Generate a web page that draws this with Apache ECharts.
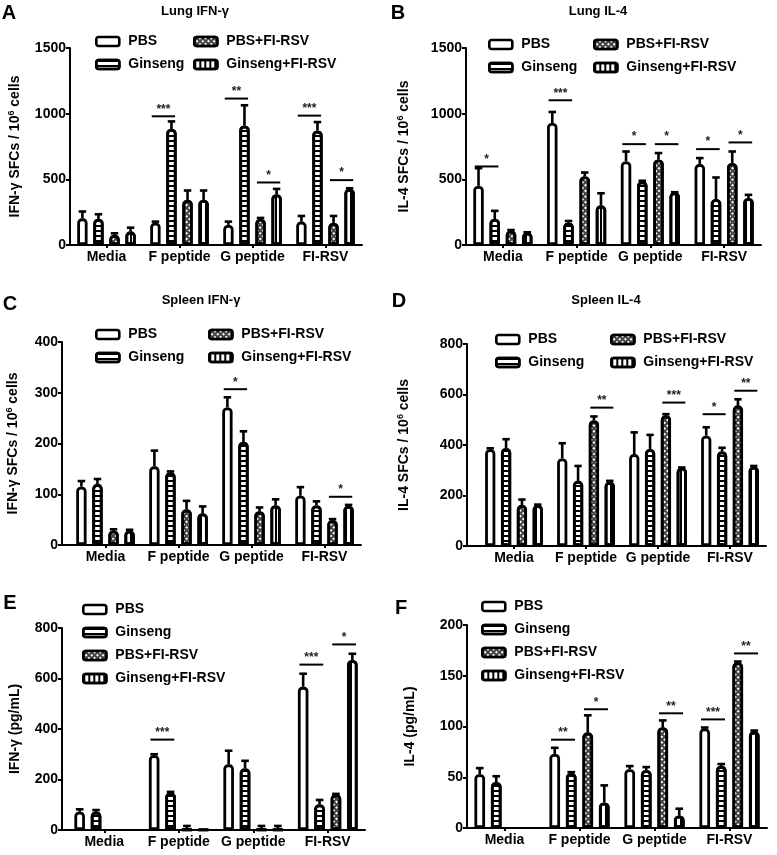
<!DOCTYPE html>
<html><head><meta charset="utf-8">
<script src="https://cdn.jsdelivr.net/npm/echarts@6/dist/echarts.min.js"></script>
<style>html,body{margin:0;padding:0;background:#fff}#c{width:777px;height:855px}</style>
</head><body><div id="c"></div>
<script>
// ---------- DATA ----------
const categories = ['Media', 'F peptide', 'G peptide', 'FI-RSV'];
const groups = ['PBS', 'Ginseng', 'PBS+FI-RSV', 'Ginseng+FI-RSV'];

// A: Lung IFN-γ (SFCs / 10^6 cells)
const A_PBS = [203, 170, 153, 178];
const A_PBS_SEM = [52, 8, 25, 43];
const A_Ginseng = [198, 883, 908, 870];
const A_Ginseng_SEM = [36, 58, 156, 66];
const A_PBS_FI = [76, 343, 198, 168];
const A_PBS_FI_SEM = [13, 72, 8, 53];
const A_Ginseng_FI = [102, 343, 384, 427];
const A_Ginseng_FI_SEM = [30, 72, 43, 5];
const A_sig = [[1, 0, 1, 980, 3], [2, 0, 1, 1115, 2], [2, 2, 3, 476, 1], [3, 0, 1, 985, 3], [3, 2, 3, 494, 1]];

// B: Lung IL-4
const B_PBS = [450, 929, 636, 616];
const B_PBS_SEM = [135, 84, 76, 46];
const B_Ginseng = [198, 170, 483, 349];
const B_Ginseng_SEM = [62, 13, 6, 165];
const B_PBS_FI = [109, 522, 649, 623];
const B_PBS_FI_SEM = [5, 30, 51, 89];
const B_Ginseng_FI = [94, 300, 400, 356];
const B_Ginseng_FI_SEM = [3, 94, 2, 26];
const B_sig = [[0, 0, 1, 598, 1], [1, 0, 1, 1102, 3], [2, 0, 1, 768, 1], [2, 2, 3, 768, 1], [3, 0, 1, 730, 1], [3, 2, 3, 781, 1]];

// C: Spleen IFN-γ
const C_PBS = [115, 155, 271, 97];
const C_PBS_SEM = [11, 31, 20, 17];
const C_Ginseng = [120, 143, 203, 78];
const C_Ginseng_SEM = [10, 2, 21, 8];
const C_PBS_FI = [28, 70, 66, 49];
const C_PBS_FI_SEM = [3, 17, 8, 2];
const C_Ginseng_FI = [28, 62, 78, 77];
const C_Ginseng_FI_SEM = [2, 14, 12, 2];
const C_sig = [[2, 0, 1, 307, 1], [3, 2, 3, 95, 1]];

// D: Spleen IL-4
const D_PBS = [383, 347, 364, 437];
const D_PBS_SEM = [4, 60, 86, 33];
const D_Ginseng = [387, 258, 383, 374];
const D_Ginseng_SEM = [36, 59, 57, 15];
const D_PBS_FI = [162, 497, 517, 556];
const D_PBS_FI_SEM = [22, 16, 5, 25];
const D_Ginseng_FI = [162, 254, 310, 314];
const D_Ginseng_FI_SEM = [2, 4, 1, 3];
const D_sig = [[1, 2, 3, 548, 2], [2, 2, 3, 568, 3], [3, 0, 1, 522, 1], [3, 2, 3, 615, 2]];

// E: IFN-γ (pg/mL)
const E_PBS = [72, 296, 260, 567];
const E_PBS_SEM = [10, 4, 54, 52];
const E_Ginseng = [72, 148, 244, 101];
const E_Ginseng_SEM = [7, 3, 30, 18];
const E_PBS_FI = [null, 2, 2, 141];
const E_PBS_FI_SEM = [null, 14, 14, 2];
const E_Ginseng_FI = [null, 1, 2, 672];
const E_Ginseng_FI_SEM = [null, 0, 14, 26];
const E_sig = [[1, 0, 1, 358, 3], [3, 0, 1, 655, 3], [3, 2, 3, 735, 1]];

// F: IL-4 (pg/mL)
const F_PBS = [53, 73, 58, 98];
const F_PBS_SEM = [6, 6, 3, 1];
const F_Ginseng = [45, 54, 57, 61];
const F_Ginseng_SEM = [6, 1, 3, 2];
const F_PBS_FI = [null, 94, 99, 163];
const F_PBS_FI_SEM = [null, 17, 7, 1];
const F_Ginseng_FI = [null, 25, 12, 95];
const F_Ginseng_FI_SEM = [null, 17, 7, 1];
const F_sig = [[1, 0, 1, 87, 2], [1, 2, 3, 117, 1], [2, 2, 3, 113, 2], [3, 0, 1, 107, 3], [3, 2, 3, 172, 2]];

// ---------- LAYOUT / STYLE ----------
const FONT = '"Liberation Sans", Arial, Helvetica, sans-serif';
const BAR_W = 0.142, BAR_GAP = 0.55;

const panels = [
  { letter: 'A', title: 'Lung IFN-γ', tx: 195, ty: 11, lx: 9, ly: 13, yOff: 0,
    grid: { left: 70, top: 48, width: 292, height: 197 }, max: 1500, interval: 500,
    yName: 'IFN-γ SFCs / 10{s|6} cells', nameGap: 47,
    series: [[A_PBS, A_PBS_SEM], [A_Ginseng, A_Ginseng_SEM], [A_PBS_FI, A_PBS_FI_SEM], [A_Ginseng_FI, A_Ginseng_FI_SEM]], sig: A_sig,
    legends: [{ left: 95, top: 34, data: [groups[0], groups[1]] }, { left: 193, top: 34, data: [groups[2], groups[3]] }] },
  { letter: 'B', title: 'Lung IL-4', tx: 598, ty: 11, lx: 398, ly: 13, yOff: 0,
    grid: { left: 466, top: 48, width: 295, height: 197 }, max: 1500, interval: 500,
    yName: 'IL-4 SFCs / 10{s|6} cells', nameGap: 54,
    series: [[B_PBS, B_PBS_SEM], [B_Ginseng, B_Ginseng_SEM], [B_PBS_FI, B_PBS_FI_SEM], [B_Ginseng_FI, B_Ginseng_FI_SEM]], sig: B_sig,
    legends: [{ left: 488, top: 37, data: [groups[0], groups[1]] }, { left: 593, top: 37, data: [groups[2], groups[3]] }] },
  { letter: 'C', title: 'Spleen IFN-γ', tx: 201, ty: 300, lx: 10, ly: 304, yOff: 7,
    grid: { left: 69, top: 342, width: 292, height: 203 }, max: 400, interval: 100,
    yName: 'IFN-γ SFCs / 10{s|6} cells', nameGap: 41,
    series: [[C_PBS, C_PBS_SEM], [C_Ginseng, C_Ginseng_SEM], [C_PBS_FI, C_PBS_FI_SEM], [C_Ginseng_FI, C_Ginseng_FI_SEM]], sig: C_sig,
    legends: [{ left: 95, top: 327, data: [groups[0], groups[1]] }, { left: 208, top: 327, data: [groups[2], groups[3]] }] },
  { letter: 'D', title: 'Spleen IL-4', tx: 606, ty: 300, lx: 399, ly: 301, yOff: 11,
    grid: { left: 478, top: 344, width: 288, height: 202 }, max: 800, interval: 200,
    yName: 'IL-4 SFCs / 10{s|6} cells', nameGap: 55,
    series: [[D_PBS, D_PBS_SEM], [D_Ginseng, D_Ginseng_SEM], [D_PBS_FI, D_PBS_FI_SEM], [D_Ginseng_FI, D_Ginseng_FI_SEM]], sig: D_sig,
    legends: [{ left: 495, top: 332, data: [groups[0], groups[1]] }, { left: 610, top: 332, data: [groups[2], groups[3]] }] },
  { letter: 'E', title: '', tx: 0, ty: 0, lx: 10, ly: 603, yOff: 5,
    grid: { left: 67, top: 628, width: 298, height: 202 }, max: 800, interval: 200,
    yName: 'IFN-γ (pg/mL)', nameGap: 40,
    series: [[E_PBS, E_PBS_SEM], [E_Ginseng, E_Ginseng_SEM], [E_PBS_FI, E_PBS_FI_SEM], [E_Ginseng_FI, E_Ginseng_FI_SEM]], sig: E_sig,
    legends: [{ left: 82, top: 602, data: groups.slice() }] },
  { letter: 'F', title: '', tx: 0, ty: 0, lx: 401, ly: 608, yOff: 0,
    grid: { left: 467, top: 625, width: 300, height: 203 }, max: 200, interval: 50,
    yName: 'IL-4 (pg/mL)', nameGap: 50,
    series: [[F_PBS, F_PBS_SEM], [F_Ginseng, F_Ginseng_SEM], [F_PBS_FI, F_PBS_FI_SEM], [F_Ginseng_FI, F_Ginseng_FI_SEM]], sig: F_sig,
    legends: [{ left: 481, top: 599, data: groups.slice() }] }
];

const barStyles = [
  { color: '#fff', borderColor: '#000', borderWidth: 2.8, borderRadius: [3, 3, 0, 0] },
  { color: '#fff', borderColor: '#000', borderWidth: 2.8, borderRadius: [3, 3, 0, 0],
    decal: { symbol: 'rect', symbolSize: 1, symbolKeepAspect: false, color: '#000',
             dashArrayX: [1, 0], dashArrayY: [1.2, 2.8], rotation: 0 } },
  { color: '#444', borderColor: '#000', borderWidth: 2.8, borderRadius: [3, 3, 0, 0],
    decal: { symbol: 'rect', symbolSize: 1, symbolKeepAspect: false, color: '#fff',
             dashArrayX: [1.3, 1.4], dashArrayY: [1.3, 1.4], rotation: Math.PI / 4 } },
  { color: '#fff', borderColor: '#000', borderWidth: 2.8, borderRadius: [3, 3, 0, 0],
    decal: { symbol: 'rect', symbolSize: 1, symbolKeepAspect: false, color: '#000',
             dashArrayX: [1.2, 2.6], dashArrayY: [1, 0], rotation: 0 } }
];

function barLayout(api) {
  const band = api.size([1, 0])[0];
  const bw = band * BAR_W;
  const total = 4 * bw + 3 * bw * BAR_GAP;
  return { bw: bw, off: function (i) { return -total / 2 + bw / 2 + i * bw * (1 + BAR_GAP); } };
}

function renderErr(params, api) {
  const cat = api.value(0), bi = api.value(1), mean = api.value(2), err = api.value(3);
  const L = barLayout(api);
  const base = api.coord([cat, mean]);
  const top = api.coord([cat, mean + err]);
  const x = base[0] + L.off(bi);
  const half = L.bw * 0.36;
  const st = { stroke: '#000', lineWidth: 2.6 };
  return { type: 'group', children: [
    { type: 'line', shape: { x1: x, y1: base[1], x2: x, y2: top[1] }, style: st },
    { type: 'line', shape: { x1: x - half, y1: top[1], x2: x + half, y2: top[1] }, style: st }
  ] };
}

function renderSig(params, api) {
  const cat = api.value(0), a = api.value(1), b = api.value(2), y = api.value(3), n = api.value(4);
  const L = barLayout(api);
  const p = api.coord([cat, y]);
  const x1 = p[0] + L.off(a) - L.bw * 0.35;
  const x2 = p[0] + L.off(b) + L.bw * 0.35;
  return { type: 'group', children: [
    { type: 'line', shape: { x1: x1, y1: p[1], x2: x2, y2: p[1] }, style: { stroke: '#000', lineWidth: 2 } },
    { type: 'text', style: { text: '*'.repeat(n), x: (x1 + x2) / 2, y: p[1] - 1, align: 'center', verticalAlign: 'bottom',
      font: 'bold 12px ' + FONT, fill: '#222' } }
  ] };
}

const grids = [], xAxes = [], yAxes = [], series = [], legends = [], graphics = [];

panels.forEach(function (P, pi) {
  grids.push(Object.assign({ outerBoundsMode: 'none', containLabel: false }, P.grid));
  const xLine = { show: true, lineStyle: { color: '#000', width: 2 } };
  if (P.yOff > 0) {
    xLine.symbol = ['rect', 'none'];
    xLine.symbolSize = [2, P.yOff + 2];
    xLine.symbolOffset = [-(P.yOff + 2) / 2 + 1, 0];
  }
  xAxes.push({
    type: 'category', gridIndex: pi, data: categories,
    axisLine: xLine,
    axisTick: { show: true, alignWithLabel: true, length: 3, lineStyle: { color: '#000', width: 2 } },
    axisLabel: { color: '#000', fontSize: 14, fontWeight: 'bold', fontFamily: FONT, margin: 5, interval: 0 }
  });
  yAxes.push({
    type: 'value', gridIndex: pi, min: 0, max: P.max, interval: P.interval, offset: P.yOff,
    splitLine: { show: false },
    axisLine: { show: true, lineStyle: { color: '#000', width: 2 } },
    axisTick: { show: true, length: 4, lineStyle: { color: '#000', width: 2 } },
    axisLabel: { color: '#000', fontSize: 14, fontWeight: 'bold', fontFamily: FONT, margin: 4,
      formatter: function (v) { return String(v); } },
    name: P.yName, nameLocation: 'middle', nameGap: P.nameGap, nameRotate: 90,
    nameTextStyle: { color: '#000', fontSize: 14, fontWeight: 'bold', fontFamily: FONT,
      rich: { s: { fontSize: 9, fontWeight: 'bold', fontFamily: FONT, color: '#000', verticalAlign: 'top', padding: [0, 0, 7, 0] } } }
  });
  const errData = [];
  P.series.forEach(function (pair, bi) {
    series.push({
      type: 'bar', name: groups[bi], xAxisIndex: pi, yAxisIndex: pi, data: pair[0],
      barWidth: (BAR_W * 100) + '%', barGap: (BAR_GAP * 100) + '%',
      itemStyle: barStyles[bi], emphasis: { disabled: true }, z: 2
    });
    pair[0].forEach(function (v, ci) {
      if (v != null && pair[1][ci] != null) errData.push([ci, bi, v, pair[1][ci]]);
    });
  });
  series.push({ type: 'custom', name: 'err' + pi, xAxisIndex: pi, yAxisIndex: pi, renderItem: renderErr,
    data: errData, encode: { x: 0, y: 2 }, z: 3, silent: true });
  series.push({ type: 'custom', name: 'sig' + pi, xAxisIndex: pi, yAxisIndex: pi, renderItem: renderSig,
    data: P.sig, encode: { x: 0, y: 3 }, z: 3, silent: true });
  P.legends.forEach(function (L) {
    legends.push({
      left: L.left, top: L.top, orient: 'vertical', data: L.data, selectedMode: false,
      icon: 'roundRect', itemWidth: 23, itemHeight: 9, itemGap: 8, padding: 0,
      itemStyle: { borderColor: '#000', borderWidth: 2.6 },
      textStyle: { color: '#000', fontSize: 14, fontWeight: 'bold', fontFamily: FONT, lineHeight: 15, padding: [0, 0, 0, 4] }
    });
  });
  graphics.push({ type: 'text', x: P.lx, y: P.ly, style: { text: P.letter, font: 'bold 20px ' + FONT, fill: '#000', align: 'center', verticalAlign: 'middle' } });
  if (P.title) graphics.push({ type: 'text', x: P.tx, y: P.ty, style: { text: P.title, font: 'bold 13px ' + FONT, fill: '#000', align: 'center', verticalAlign: 'middle' } });
});

const chart = echarts.init(document.getElementById('c'), null, { renderer: 'canvas' });
chart.setOption({
  animation: false,
  backgroundColor: '#fff',
  textStyle: { fontFamily: FONT },
  grid: grids, xAxis: xAxes, yAxis: yAxes, series: series, legend: legends, graphic: graphics,
  tooltip: { show: false }
});
</script></body></html>
